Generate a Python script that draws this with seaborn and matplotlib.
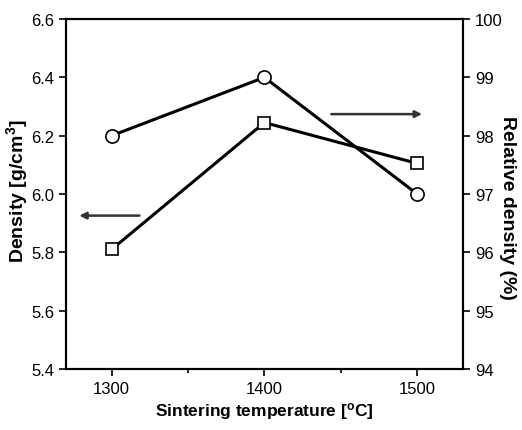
import pandas as pd
import seaborn as sns
import matplotlib.pyplot as plt
from matplotlib.ticker import MultipleLocator

# Data
temperature = [1300, 1400, 1500]
density = [5.81, 6.245, 6.105]          # g/cm3, left axis (squares)
relative_density = [98.0, 99.0, 97.0]   # %, right axis (circles)

df = pd.DataFrame({"temp": temperature, "density": density, "rel": relative_density})

sns.set_style("ticks")
plt.rcParams['font.family'] = ['Liberation Sans', 'DejaVu Sans']
plt.rcParams['axes.linewidth'] = 1.5
for key in ("text.color", "axes.labelcolor", "xtick.color", "ytick.color", "axes.edgecolor"):
    plt.rcParams[key] = "black"

fig = plt.figure(figsize=(5.22, 4.31), dpi=100)
ax = fig.add_axes([0.126, 0.1415, 0.761, 0.812])
ax2 = ax.twinx()

# Density (squares, left axis)
sns.lineplot(x="temp", y="density", data=df, ax=ax, color="black", linewidth=2.2,
             marker="s", markersize=9, markerfacecolor="white",
             markeredgecolor="black", markeredgewidth=1.2)

# Relative density (circles, right axis)
sns.lineplot(x="temp", y="rel", data=df, ax=ax2, color="black", linewidth=2.2,
             marker="o", markersize=9.5, markerfacecolor="white",
             markeredgecolor="black", markeredgewidth=1.2)

ax.set(xlim=(1270, 1530), ylim=(5.4, 6.6))
ax2.set_ylim(94, 100)
ax.set_xticks([1300, 1400, 1500])
ax.xaxis.set_minor_locator(MultipleLocator(50))
ax.yaxis.set_major_locator(MultipleLocator(0.2))
ax2.yaxis.set_major_locator(MultipleLocator(1))
ax.yaxis.set_major_formatter(plt.FormatStrFormatter("%.1f"))

ax.tick_params(axis="both", which="major", direction="out", length=5, width=1.2,
               labelsize=12, top=False, right=False)
ax.tick_params(axis="x", which="minor", direction="out", length=3, width=1.2)
ax2.tick_params(axis="y", direction="out", length=5, width=1.2, labelsize=12)

ax.set_xlabel("Sintering temperature [$\\mathregular{^{o}}$C]", fontsize=12.5,
              fontweight="bold")
ax.set_ylabel("Density [g/cm$\\mathregular{^{3}}$]", fontsize=14, fontweight="bold")
ax2.set_ylabel("Relative density (%)", fontsize=14, fontweight="bold", rotation=270)

# Place the labels where they sit in the original
for lab in (ax.xaxis.label, ax.yaxis.label, ax2.yaxis.label):
    lab.set_va("center")
    lab.set_ha("center")
    lab.set_rotation_mode("anchor")
ax.xaxis.set_label_coords(0.499, -0.118)
ax.yaxis.set_label_coords(-0.123, 0.51)
ax2.yaxis.set_label_coords(1.113, 0.463)

for a in (ax, ax2):
    for s in a.spines.values():
        s.set_visible(True)
        s.set_linewidth(1.5)
        s.set_color("black")

# Arrows pointing to the relevant axis
ax.annotate("", xy=(1277, 5.926), xytext=(1320, 5.926),
            arrowprops=dict(arrowstyle="-|>", color="#333333", lw=1.8, mutation_scale=10))
ax2.annotate("", xy=(1505, 98.37), xytext=(1442, 98.37),
             arrowprops=dict(arrowstyle="-|>", color="#333333", lw=1.8, mutation_scale=10))

fig.savefig("out.png", dpi=100)
